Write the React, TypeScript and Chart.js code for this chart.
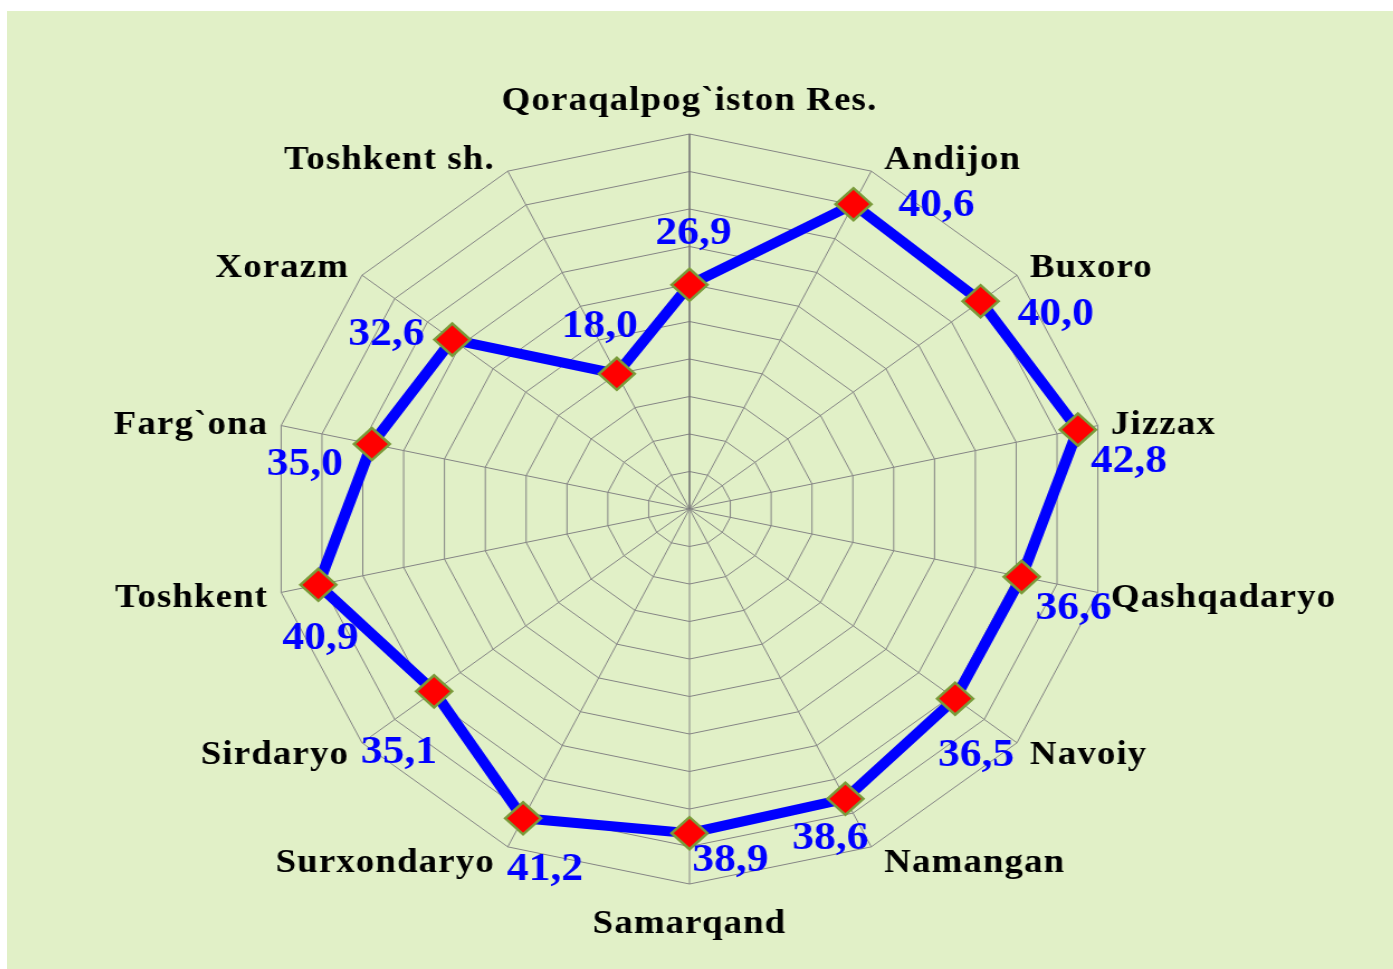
import React, { useEffect, useRef } from "react";
import { Chart, registerables } from "chart.js";

Chart.register(...registerables);

// horizontal stretch of the original picture
const S = 1.117;

const categories = [
  "Qoraqalpog`iston Res.",
  "Andijon",
  "Buxoro",
  "Jizzax",
  "Qashqadaryo",
  "Navoiy",
  "Namangan",
  "Samarqand",
  "Surxondaryo",
  "Sirdaryo",
  "Toshkent",
  "Farg`ona",
  "Xorazm",
  "Toshkent sh.",
];

const values = [26.9, 40.6, 40.0, 42.8, 36.6, 36.5, 38.6, 38.9, 41.2, 35.1, 40.9, 35.0, 32.6, 18.0];

const valueLabels = ["26,9", "40,6", "40,0", "42,8", "36,6", "36,5", "38,6", "38,9", "41,2", "35,1", "40,9", "35,0", "32,6", "18,0"];

// label offsets from each point (screen px, dx, dy)
const valueLabelOffsets = [
  [4, -51], [83, 2], [75, 14], [51, 32], [52, 32], [21, 57], [-15, 40],
  [41, 28], [22, 52], [-35, 62], [2, 54], [-67, 21], [-66, -5], [-17, -47],
];

const scaleMax = 45;
const scaleStep = 4.5;

const labelPlugin = {
  id: "customLabels",
  afterDatasetsDraw(chart: any) {
    const scale = chart.scales.r;
    const ctx = chart.ctx;
    const n = categories.length;
    ctx.save();
    ctx.textBaseline = "middle";
    ctx.font = 'bold 33px "Liberation Serif", "Times New Roman", serif';
    try { (ctx as any).letterSpacing = "1px"; } catch (e) {}
    ctx.fillStyle = "#000000";
    categories.forEach((c, i) => {
      const p = scale.getPointPosition(i, scale.drawingArea);
      const ang = (i * 2 * Math.PI) / n;
      const sn = Math.sin(ang);
      const cs = Math.cos(ang);
      let x = p.x;
      let y = p.y + 3;
      if (Math.abs(sn) < 0.01) {
        ctx.textAlign = "center";
        y += cs > 0 ? -36 : 37;
      } else {
        ctx.textAlign = sn > 0 ? "left" : "right";
        x += ((sn > 0 ? 1 : -1) * 13) / S;
        y += -cs * 15;
      }
      ctx.fillText(c, x, y);
    });
    try { (ctx as any).letterSpacing = "0px"; } catch (e) {}
    const meta = chart.getDatasetMeta(0);
    ctx.font = 'bold 39px "Liberation Serif", "Times New Roman", serif';
    ctx.fillStyle = "#0000ff";
    ctx.textAlign = "center";
    meta.data.forEach((pt: any, i: number) => {
      const off = valueLabelOffsets[i];
      ctx.fillText(valueLabels[i], pt.x + off[0] / S, pt.y + off[1]);
    });
    ctx.restore();
  },
};

export default function App() {
  const ref = useRef<HTMLCanvasElement>(null);
  useEffect(() => {
    if (!ref.current) return;
    const chart = new Chart(ref.current, {
      type: "radar",
      data: {
        labels: categories,
        datasets: [
          {
            data: values,
            borderColor: "#0000ff",
            borderWidth: 10,
            fill: false,
            tension: 0,
            pointStyle: "rectRot",
            pointRadius: 16,
            pointHoverRadius: 16,
            pointBackgroundColor: "#ff0000",
            pointBorderColor: "#7a9a3a",
            pointBorderWidth: 2.5,
          },
        ],
      },
      options: {
        responsive: false,
        animation: false,
        layout: { padding: { left: 236, right: 255, top: 123, bottom: 85 } },
        plugins: {
          legend: { display: false },
          tooltip: { enabled: false },
          title: { display: false },
        },
        scales: {
          r: {
            min: 0,
            max: scaleMax,
            ticks: { display: false, stepSize: scaleStep },
            grid: { color: "#848484", lineWidth: 1, circular: false },
            angleLines: {
              color: (c: any) => (c.index === 0 ? "#737373" : "#848484"),
              lineWidth: (c: any) => (c.index === 0 ? 1.6 : 1),
            },
            pointLabels: { display: false },
          },
        },
      },
      plugins: [labelPlugin],
    });
    return () => chart.destroy();
  }, []);

  const cw = 1241;
  const ch = 958;
  return (
    <div
      style={{
        position: "absolute",
        left: 7,
        top: 11,
        width: 1386,
        height: 958,
        background: "#e1f0c7",
        overflow: "hidden",
      }}
    >
      <div style={{ transform: `scaleX(${S})`, transformOrigin: "0 0", width: cw, height: ch }}>
        <canvas ref={ref} width={cw} height={ch} style={{ width: cw, height: ch, display: "block" }} />
      </div>
    </div>
  );
}
